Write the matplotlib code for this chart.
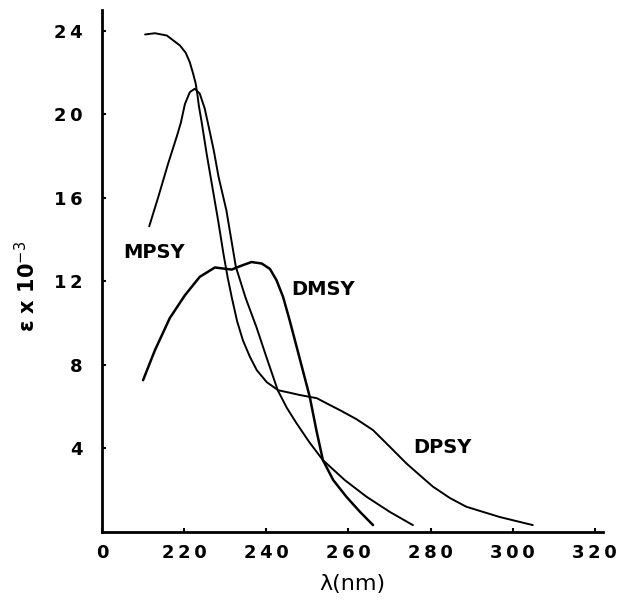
import matplotlib
matplotlib.use("Agg")
import matplotlib.pyplot as plt

# ---- data ----
dpsy_wl = [210.5, 212.9, 215.8, 219.0, 220.4, 221.4, 222.2, 222.8, 223.2, 223.6,
           224.3, 225.5, 226.9, 228.3, 229.6, 230.6, 231.6, 232.9, 234.3, 236.0,
           237.7, 240.1, 242.9, 245.5, 248.2, 252.3, 255.5, 257.9, 262.0, 266.0,
           270.1, 274.1, 277.5, 280.6, 284.7, 288.7, 296.8, 304.9]
dpsy_eps = [23.83, 23.89, 23.78, 23.3, 22.95, 22.49, 21.95, 21.5, 21.0, 20.4,
            19.6, 18.1, 16.5, 14.9, 13.3, 12.2, 11.24, 10.1, 9.19, 8.4,
            7.75, 7.18, 6.79, 6.68, 6.56, 6.41, 6.08, 5.84, 5.4, 4.88,
            4.08, 3.29, 2.7, 2.17, 1.63, 1.21, 0.72, 0.33]

mpsy_wl = [211.5, 213.7, 216.1, 218.3, 219.2, 220.2, 221.4, 222.6, 223.8, 225.0,
           226.0, 227.2, 228.4, 230.3, 232.6, 235.0, 237.6, 240.0, 242.8, 245.0,
           247.4, 250.5, 253.8, 259.1, 264.4, 270.1, 275.7]
mpsy_eps = [14.64, 16.04, 17.64, 19.0, 19.6, 20.5, 21.07, 21.23, 21.0, 20.3,
            19.4, 18.3, 17.0, 15.4, 12.7, 11.2, 9.82, 8.4, 6.79, 5.95,
            5.2, 4.3, 3.44, 2.49, 1.69, 0.96, 0.33]

dmsy_wl = [210.0, 212.9, 216.5, 220.2, 223.8, 227.5, 229.5, 231.6, 233.6, 236.4,
           238.9, 240.9, 242.5, 244.1, 245.7, 247.4, 249.0, 250.6, 252.2, 253.8,
           256.3, 259.5, 262.8, 266.0]
dmsy_eps = [7.27, 8.71, 10.24, 11.34, 12.22, 12.67, 12.62, 12.57, 12.73, 12.93,
            12.86, 12.6, 12.06, 11.26, 10.14, 8.87, 7.67, 6.47, 4.88, 3.44,
            2.49, 1.69, 0.97, 0.33]

x_ticks = [200, 220, 240, 260, 280, 300, 320]
x_tick_labels = ["0", "220", "240", "260", "280", "300", "320"]
y_ticks = [4, 8, 12, 16, 20, 24]
y_tick_labels = ["4", "8", "12", "16", "20", "24"]

labels = ["MPSY", "DMSY", "DPSY"]
label_x = [212.7, 253.8, 282.9]
label_y = [13.4, 11.6, 4.07]

# ---- figure ----
fig = plt.figure(figsize=(6.33, 6.02), dpi=100)
ax = fig.add_axes([0.1611, 0.1163, 0.7915, 0.867])

ax.plot(dpsy_wl, dpsy_eps, color="black", lw=1.4, solid_joinstyle="round",
        solid_capstyle="round")
ax.plot(mpsy_wl, mpsy_eps, color="black", lw=1.4, solid_joinstyle="round",
        solid_capstyle="round")
ax.plot(dmsy_wl, dmsy_eps, color="black", lw=1.8, solid_joinstyle="round",
        solid_capstyle="round")

for t, x, y in zip(labels, label_x, label_y):
    ax.text(x, y, t, fontsize=14, fontweight="bold", ha="center", va="center",
            family="DejaVu Sans")

ax.set_xlim(200, 322)
ax.set_ylim(0, 25)

sp = "\u2009"
ax.set_xticks(x_ticks)
ax.set_xticklabels([sp.join(s) for s in x_tick_labels])
ax.set_yticks(y_ticks)
ax.set_yticklabels([sp.join(s) for s in y_tick_labels])

for s in ["top", "right"]:
    ax.spines[s].set_visible(False)
for s in ["left", "bottom"]:
    ax.spines[s].set_linewidth(2.0)

ax.tick_params(axis="both", direction="in", length=3, width=1.5,
               labelsize=13)
ax.tick_params(axis="x", pad=9)
ax.tick_params(axis="y", pad=14)
for lab in ax.get_xticklabels() + ax.get_yticklabels():
    lab.set_fontweight("bold")

ax.set_xlabel("λ(nm)", fontsize=16, labelpad=8)
ax.set_ylabel("ε x 10$^{-3}$", fontsize=15, fontweight="bold")
ax.yaxis.set_label_coords(-0.125, 0.47)

fig.savefig("out.png", dpi=100)
